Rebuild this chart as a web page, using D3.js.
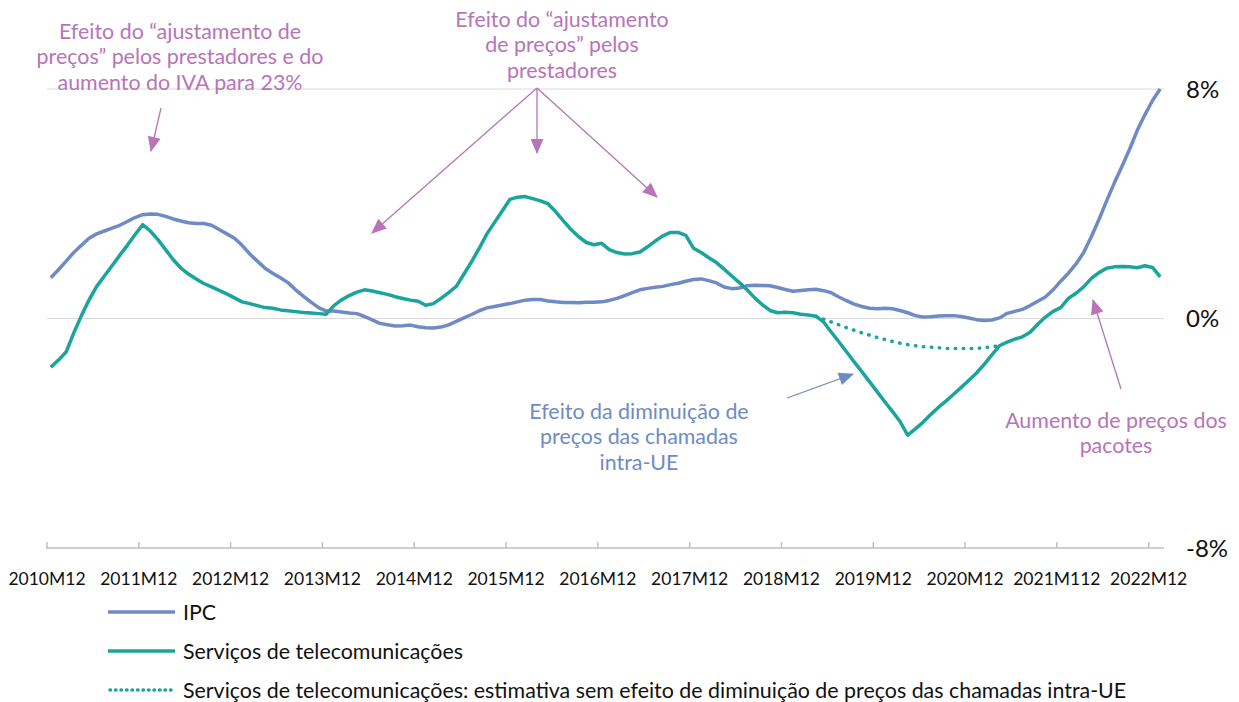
<!DOCTYPE html>
<html>
<head>
<meta charset="utf-8">
<script src="https://cdn.jsdelivr.net/npm/d3@7"></script>
<style>
  body { margin: 0; background: #fff; }
  svg { font-family: Lato, "Open Sans", sans-serif; }
</style>
</head>
<body>
<svg id="chart"></svg>
<script>
// Config
const width = 1239;
const height = 702;

// categorias: meses de 2010M12 a 2023M01
const startYear = 2010;
const months = [];
for (let k = 0; k < 146; k++) {
  const m = (11 + k) % 12 + 1;
  const y = startYear + Math.floor((11 + k) / 12);
  months.push(y + "M" + String(m).padStart(2, "0"));
}

// tick labels (como no original)
const tickLabels = ["2010M12", "2011M12", "2012M12", "2013M12", "2014M12", "2015M12",
  "2016M12", "2017M12", "2018M12", "2019M12", "2020M12", "2021M112", "2022M12"];
const yTicks = [8, 0, -8];

// IPC (taxa média 12 meses, %)
const ipc = [
  1.42, 1.70, 2.00, 2.30, 2.55, 2.80, 2.95, 3.05, 3.15, 3.25, 3.38, 3.52,
  3.62, 3.64, 3.63, 3.56, 3.47, 3.40, 3.34, 3.31, 3.31, 3.25, 3.10, 2.95,
  2.80, 2.55, 2.25, 2.00, 1.75, 1.58, 1.42, 1.25, 1.00, 0.78, 0.57, 0.38,
  0.26, 0.26, 0.23, 0.19, 0.17, 0.07, -0.05, -0.17, -0.22, -0.26, -0.25, -0.23,
  -0.29, -0.32, -0.33, -0.30, -0.22, -0.10, 0.02, 0.14, 0.27, 0.37, 0.42, 0.47,
  0.52, 0.58, 0.64, 0.66, 0.66, 0.61, 0.58, 0.56, 0.56, 0.55, 0.57, 0.57,
  0.58, 0.63, 0.70, 0.80, 0.90, 1.00, 1.05, 1.09, 1.12, 1.18, 1.23, 1.30,
  1.36, 1.38, 1.32, 1.24, 1.10, 1.04, 1.06, 1.14, 1.16, 1.15, 1.14, 1.08,
  1.01, 0.95, 0.98, 1.00, 1.02, 0.97, 0.90, 0.75, 0.62, 0.50, 0.42, 0.36,
  0.34, 0.36, 0.34, 0.28, 0.20, 0.10, 0.05, 0.06, 0.09, 0.10, 0.10, 0.07,
  0.02, -0.04, -0.07, -0.05, 0.02, 0.18, 0.25, 0.32, 0.45, 0.60, 0.75, 1.00,
  1.30, 1.58, 1.90, 2.30, 2.85, 3.45, 4.10, 4.72, 5.30, 5.90, 6.55, 7.10,
  7.60, 8.00
];

// Serviços de telecomunicações
const telecom = [
  -1.70, -1.45, -1.17, -0.50, 0.10, 0.65, 1.12, 1.48, 1.84, 2.20, 2.55, 2.92,
  3.27, 3.05, 2.75, 2.40, 2.05, 1.76, 1.55, 1.38, 1.22, 1.10, 0.98, 0.86,
  0.72, 0.58, 0.52, 0.45, 0.38, 0.36, 0.30, 0.27, 0.24, 0.21, 0.19, 0.17,
  0.15, 0.45, 0.65, 0.80, 0.92, 1.00, 0.96, 0.90, 0.84, 0.76, 0.70, 0.64,
  0.60, 0.46, 0.52, 0.70, 0.90, 1.12, 1.55, 1.98, 2.45, 2.95, 3.35, 3.75,
  4.15, 4.23, 4.25, 4.18, 4.10, 4.00, 3.72, 3.40, 3.10, 2.85, 2.65, 2.57,
  2.62, 2.40, 2.30, 2.25, 2.26, 2.32, 2.50, 2.70, 2.88, 3.00, 3.00, 2.90,
  2.45, 2.30, 2.12, 1.95, 1.72, 1.48, 1.25, 1.00, 0.72, 0.48, 0.28, 0.20,
  0.22, 0.20, 0.15, 0.12, 0.08, -0.12, -0.47, -0.81, -1.16, -1.51, -1.85, -2.20,
  -2.55, -2.90, -3.24, -3.59, -4.07, -3.85, -3.62, -3.35, -3.10, -2.88, -2.64, -2.40,
  -2.15, -1.90, -1.60, -1.27, -0.95, -0.82, -0.72, -0.64, -0.48, -0.20, 0.05, 0.25,
  0.38, 0.70, 0.88, 1.10, 1.40, 1.60, 1.75, 1.80, 1.81, 1.80, 1.77, 1.84,
  1.78, 1.45
];

// estimativa sem efeito intra-UE (2019M04 a 2020M12)
const estimateStart = 100;
const estimate = [
  0.08, -0.02, -0.12, -0.22, -0.32, -0.41, -0.50, -0.58, -0.66, -0.73, -0.80, -0.86,
  -0.91, -0.95, -0.98, -1.00, -1.02, -1.04, -1.05, -1.05, -1.05, -1.04, -1.02, -0.98,
  -0.95
];

const blue = "#6e8bc5";
const teal = "#19a59b";
const pink = "#b774b8";

const svg = d3.select("#chart").attr("width", width).attr("height", height);

// Escalas
const x = d3.scaleBand().domain(months).range([47, 1164]);
const cx = i => x(months[i]) + x.bandwidth() / 2;
const y = d3.scaleLinear().domain([-8, 8]).range([548, 89]);

// grelha
svg.selectAll(".grid").data([8, 0]).enter().append("line")
  .attr("x1", 47).attr("x2", 1164)
  .attr("y1", d => y(d)).attr("y2", d => y(d))
  .attr("stroke", "#d9d9d9").attr("stroke-width", 1.2);

// eixo x
const tickIdx = tickLabels.map((t, k) => k * 12);
svg.append("line")
  .attr("x1", 46).attr("x2", 1164).attr("y1", y(-8)).attr("y2", y(-8))
  .attr("stroke", "#bfbfbf").attr("stroke-width", 1.5);
svg.selectAll(".xtick").data(tickIdx).enter().append("line")
  .attr("x1", d => x(months[d])).attr("x2", d => x(months[d]))
  .attr("y1", y(-8)).attr("y2", y(-8) - 6)
  .attr("stroke", "#bfbfbf").attr("stroke-width", 1.5);
svg.selectAll(".xlabel").data(tickLabels).enter().append("text")
  .attr("x", (d, k) => x(months[k * 12]))
  .attr("y", 584.5)
  .attr("text-anchor", "middle")
  .attr("font-size", 17.5)
  .attr("fill", "#111")
  .text(d => d);

// eixo y (direita)
svg.selectAll(".ylabel").data(yTicks).enter().append("text")
  .attr("x", 1186)
  .attr("y", d => y(d) + 8.5)
  .attr("font-size", 24)
  .attr("fill", "#111")
  .text(d => d + "%");

// linhas
const line = d3.line().x((d, i) => cx(i)).y(d => y(d));
svg.append("path").datum(ipc).attr("d", line)
  .attr("fill", "none").attr("stroke", blue).attr("stroke-width", 3.5)
  .attr("stroke-linejoin", "round");
svg.append("path").datum(telecom).attr("d", line)
  .attr("fill", "none").attr("stroke", teal).attr("stroke-width", 3.5)
  .attr("stroke-linejoin", "round");
const lineEst = d3.line().x((d, i) => cx(i + estimateStart)).y(d => y(d));
svg.append("path").datum(estimate).attr("d", lineEst)
  .attr("fill", "none").attr("stroke", teal).attr("stroke-width", 3.5)
  .attr("stroke-linecap", "round").attr("stroke-dasharray", "0.5 7.5");

// setas
const defs = svg.append("defs");
[["pinkHead", pink], ["blueHead", blue]].forEach(([id, c]) => {
  defs.append("marker")
    .attr("id", id).attr("viewBox", "0 0 14 12")
    .attr("refX", 13).attr("refY", 6)
    .attr("markerWidth", 16).attr("markerHeight", 13)
    .attr("markerUnits", "userSpaceOnUse")
    .attr("orient", "auto")
    .append("path").attr("d", "M0,0 L14,6 L0,12 Z").attr("fill", c);
});
const arrows = [
  { from: [161, 108], to: [151, 151], c: pink, m: "pinkHead" },
  { from: [537, 88], to: [372, 233], c: pink, m: "pinkHead" },
  { from: [537, 88], to: [537, 153], c: pink, m: "pinkHead" },
  { from: [537, 88], to: [657, 197], c: pink, m: "pinkHead" },
  { from: [787, 398], to: [853, 374], c: blue, m: "blueHead" },
  { from: [1121, 389], to: [1093, 300], c: pink, m: "pinkHead" }
];
svg.selectAll(".arrow").data(arrows).enter().append("line")
  .attr("x1", d => d.from[0]).attr("y1", d => d.from[1])
  .attr("x2", d => d.to[0]).attr("y2", d => d.to[1])
  .attr("stroke", d => d.c).attr("stroke-width", 1.3)
  .attr("marker-end", d => "url(#" + d.m + ")");

// anotações
const notes = [
  { x: 180, y: 38.5, c: pink, lines: ["Efeito do “ajustamento de", "preços” pelos prestadores e do", "aumento do IVA para 23%"] },
  { x: 562, y: 26.5, c: pink, lines: ["Efeito do “ajustamento", "de preços” pelos", "prestadores"] },
  { x: 639, y: 418.5, c: blue, lines: ["Efeito da diminuição de", "preços das chamadas", "intra-UE"] },
  { x: 1116, y: 427.5, c: pink, lines: ["Aumento de preços dos", "pacotes"] }
];
notes.forEach(n => {
  const t = svg.append("text")
    .attr("x", n.x).attr("y", n.y)
    .attr("text-anchor", "middle")
    .attr("font-size", 21.4)
    .attr("fill", n.c);
  n.lines.forEach((l, k) => {
    t.append("tspan").attr("x", n.x).attr("dy", k === 0 ? 0 : 25.5).text(l);
  });
});

// legenda
const legend = [
  { name: "IPC", c: blue, dash: null },
  { name: "Serviços de telecomunicações", c: teal, dash: null },
  { name: "Serviços de telecomunicações: estimativa sem efeito de diminuição de preços das chamadas intra-UE", c: teal, dash: "0.5 5" }
];
const lg = svg.selectAll(".leg").data(legend).enter().append("g")
  .attr("transform", (d, k) => "translate(108," + (612 + k * 39) + ")");
lg.append("line")
  .attr("x1", d => d.dash ? 2 : 0).attr("x2", 67)
  .attr("stroke", d => d.c).attr("stroke-width", 3.5)
  .attr("stroke-linecap", d => d.dash ? "round" : "butt")
  .attr("stroke-dasharray", d => d.dash);
lg.append("text")
  .attr("x", 75).attr("y", 7.5)
  .attr("font-size", 21.4)
  .attr("fill", "#111")
  .text(d => d.name);
</script>
</body>
</html>
